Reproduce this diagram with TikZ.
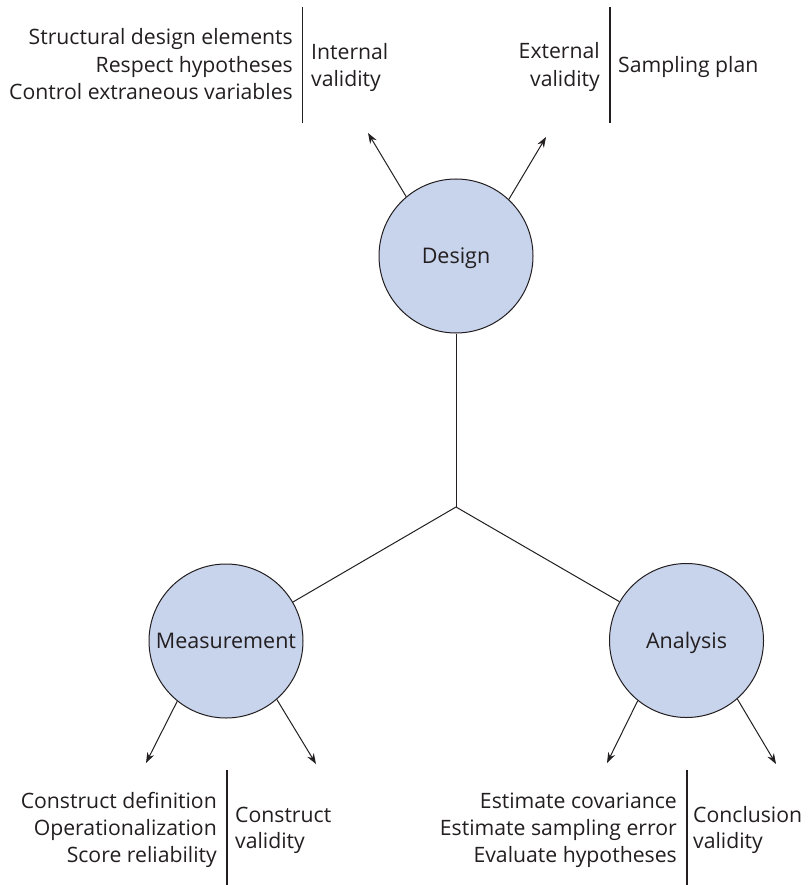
\documentclass[tikz,border=0pt]{standalone}
\usepackage{fontspec}
\setmainfont{Open Sans}
\usetikzlibrary{arrows.meta}
\definecolor{circfill}{RGB}{200,211,236}
\definecolor{ink}{RGB}{35,31,32}
\tikzset{
  topic/.style={circle,draw=ink,line width=1pt,fill=circfill,minimum size=154pt,inner sep=0pt,text=ink,text depth=0pt,font=\fontsize{21.5}{25}\selectfont},
  lbl/.style={inner sep=0pt,text=ink,font=\fontsize{21.2}{25}\selectfont},
  conn/.style={draw=ink,line width=1pt},
  arr/.style={draw=ink,line width=1pt,-{Stealth[length=10.5pt,width=7.5pt]}},
  sep/.style={draw=ink,line width=1.1pt}
}
\begin{document}
\begin{tikzpicture}[x=1pt,y=-1pt]
\useasboundingbox[fill=white] (0,0) rectangle (809,885);
% circles
\node[topic] (design) at (456,256) {Design};
\node[topic] (meas) at (226,641) {Measurement};
\node[topic] (anal) at (686.5,640.5) {Analysis};
\coordinate (hub) at (456,507);
\draw[conn] (design.south) -- (hub);
\draw[conn] (hub) -- (meas);
\draw[conn] (hub) -- (anal);
% arrow tips
\coordinate (tipIV) at (368,133);
\coordinate (tipEV) at (546,137);
\coordinate (tipCV) at (146,763);
\coordinate (tipCoV) at (316,764);
\coordinate (tipAL) at (607,763);
\coordinate (tipAR) at (776,764);
\draw[arr] (design.130.8) -- (tipIV);
\draw[arr] (design.47) -- (tipEV);
\draw[arr] (meas.231.8) -- (tipCV);
\draw[arr] (meas.311.9) -- (tipCoV);
\draw[arr] (anal.231.9) -- (tipAL);
\draw[arr] (anal.311.1) -- (tipAR);
% separators
\coordinate (s1a) at (302.5,7); \coordinate (s1b) at (302.5,123);
\coordinate (s2a) at (610,7); \coordinate (s2b) at (610,123);
\coordinate (s3a) at (227,770); \coordinate (s3b) at (227,885);
\coordinate (s4a) at (687,770); \coordinate (s4b) at (687,885);
\draw[sep] (s1a) -- (s1b);
\draw[sep] (s2a) -- (s2b);
\draw[sep] (s3a) -- (s3b);
\draw[sep] (s4a) -- (s4b);
% top-left texts
\node[lbl,anchor=base east] (t1) at (293,45) {Structural design elements};
\node[lbl,anchor=base east] (t2) at (293,73) {Respect hypotheses};
\node[lbl,anchor=base east] (t3) at (293,100) {Control extraneous variables};
\node[lbl,anchor=base west] (t4) at (311,60) {Internal};
\node[lbl,anchor=base west] (t5) at (311,87) {validity};
% top-right texts
\node[lbl,anchor=base east] (t6) at (600,59) {External};
\node[lbl,anchor=base east] (t7) at (600,87) {validity};
\node[lbl,anchor=base west] (t8) at (618,73) {Sampling plan};
% bottom-left texts
\node[lbl,anchor=base east] (b1) at (217,808) {Construct definition};
\node[lbl,anchor=base east] (b2) at (217,835) {Operationalization};
\node[lbl,anchor=base east] (b3) at (217,862) {Score reliability};
\node[lbl,anchor=base west] (b4) at (235,822) {Construct};
\node[lbl,anchor=base west] (b5) at (235,848) {validity};
% bottom-right texts
\node[lbl,anchor=base east] (b6) at (677,808) {Estimate covariance};
\node[lbl,anchor=base east] (b7) at (677,835) {Estimate sampling error};
\node[lbl,anchor=base east] (b8) at (677,862) {Evaluate hypotheses};
\node[lbl,anchor=base west] (b9) at (693,822) {Conclusion};
\node[lbl,anchor=base west] (b10) at (693,848) {validity};
\end{tikzpicture}
\end{document}
